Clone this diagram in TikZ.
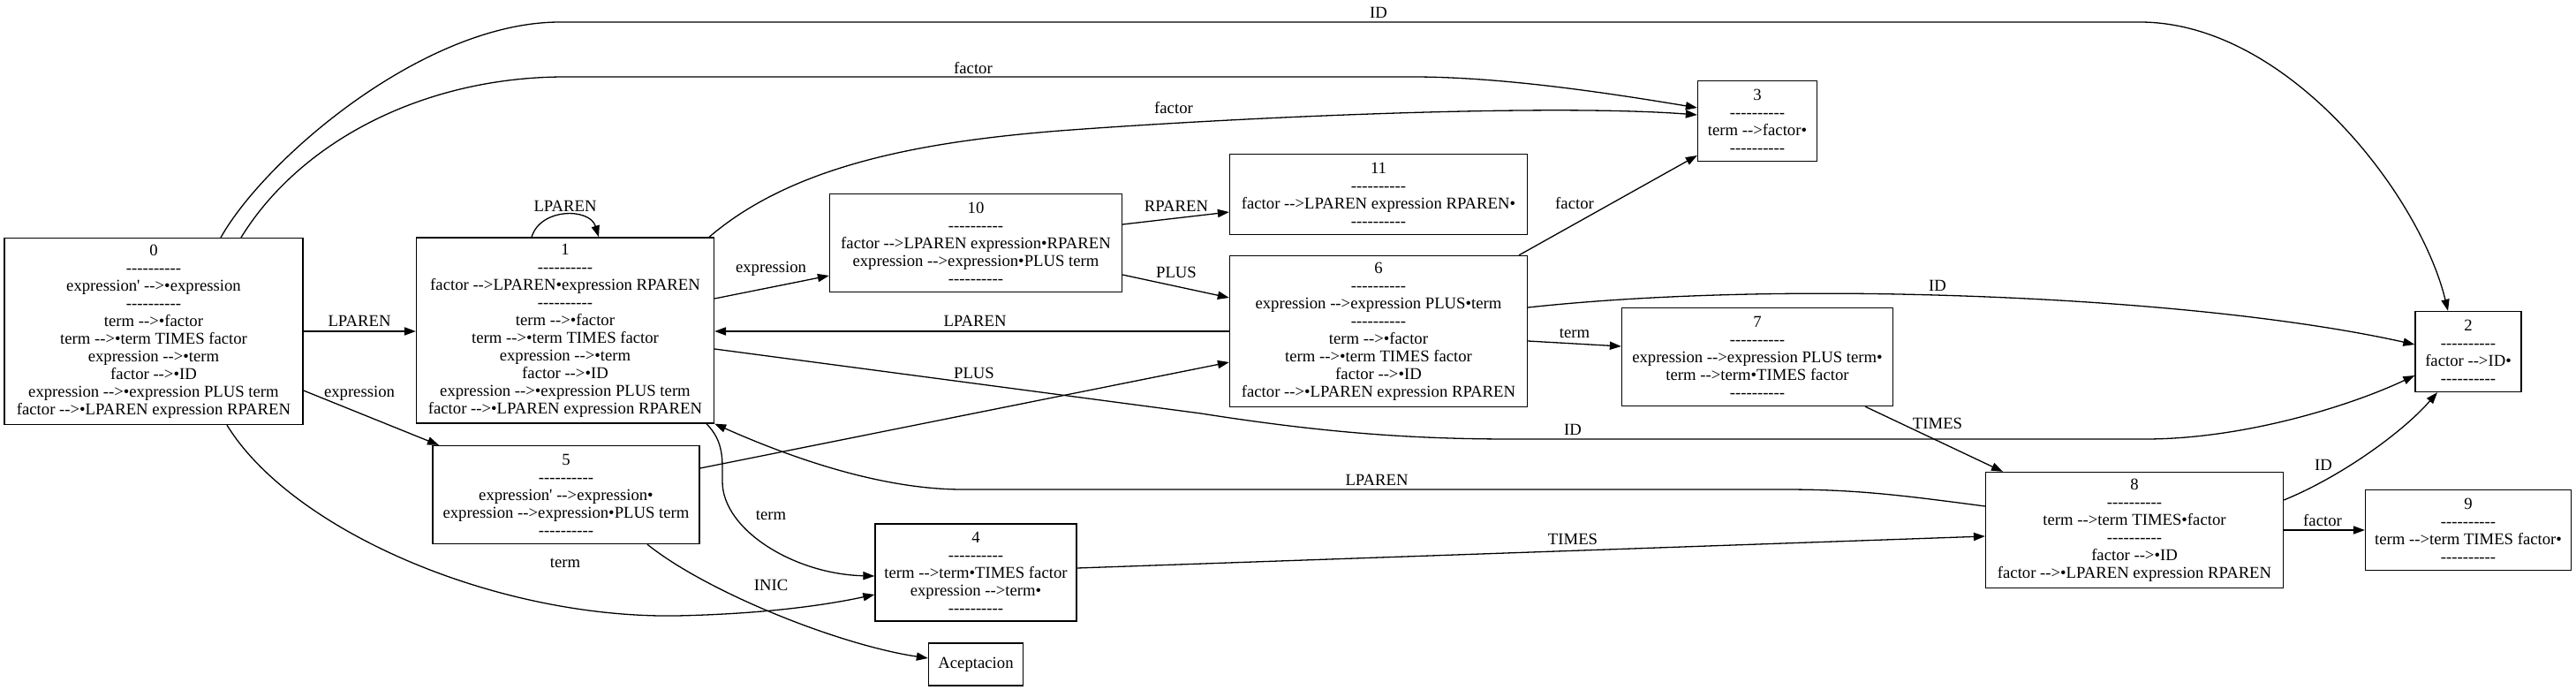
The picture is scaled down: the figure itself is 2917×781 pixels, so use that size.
\documentclass[tikz,border=0pt]{standalone}
\usepackage{fontspec}
\newfontfamily\gv{Liberation Serif}
\usetikzlibrary{arrows.meta,calc}
\newcommand\gvf{\gv\fontsize{9.35}{10}\selectfont}
\newcommand\gvsep{----------}
\tikzset{
 st/.style={draw, line width=0.65pt, align=center, inner sep=0pt, font=\gvf},
 lbl/.style={inner sep=0pt, font=\gvf},
 conn/.style={line width=0.65pt, -{Triangle[length=6.5pt,width=4.6pt]}},
}
\begin{document}
\begin{tikzpicture}[x=0.5pt,y=-0.5pt]
\useasboundingbox (0,0) rectangle (2917,781);
\fill[white] (0,0) rectangle (2917,781);
% states
\node[st, minimum width=169pt, minimum height=105.5pt] (n0) at (174,375) {0\\\gvsep\\expression' -->•expression\\\gvsep\\term -->•factor\\term -->•term TIMES factor\\expression -->•term\\factor -->•ID\\expression -->•expression PLUS term\\factor -->•LPAREN expression RPAREN};
\node[st, minimum width=168.5pt, minimum height=105pt] (n1) at (640,374) {1\\\gvsep\\factor -->LPAREN•expression RPAREN\\\gvsep\\term -->•factor\\term -->•term TIMES factor\\expression -->•term\\factor -->•ID\\expression -->•expression PLUS term\\factor -->•LPAREN expression RPAREN};
\node[st, minimum width=165.5pt, minimum height=55.5pt] (n10) at (1105,275) {10\\\gvsep\\factor -->LPAREN expression•RPAREN\\expression -->expression•PLUS term\\\gvsep};
\node[st, minimum width=168.5pt, minimum height=45.5pt] (n11) at (1561,220) {11\\\gvsep\\factor -->LPAREN expression RPAREN•\\\gvsep};
\node[st, minimum width=168.5pt, minimum height=85.5pt] (n6) at (1561,375) {6\\\gvsep\\expression -->expression PLUS•term\\\gvsep\\term -->•factor\\term -->•term TIMES factor\\factor -->•ID\\factor -->•LPAREN expression RPAREN};
\node[st, minimum width=67.5pt, minimum height=45.5pt] (n3) at (1990,137) {3\\\gvsep\\term -->factor•\\\gvsep};
\node[st, minimum width=153.5pt, minimum height=55.5pt] (n7) at (1990,404) {7\\\gvsep\\expression -->expression PLUS term•\\term -->term•TIMES factor\\\gvsep};
\node[st, minimum width=60pt, minimum height=45.5pt] (n2) at (2795,398) {2\\\gvsep\\factor -->ID•\\\gvsep};
\node[st, minimum width=168.5pt, minimum height=65.5pt] (n8) at (2417,600) {8\\\gvsep\\term -->term TIMES•factor\\\gvsep\\factor -->•ID\\factor -->•LPAREN expression RPAREN};
\node[st, minimum width=116.5pt, minimum height=45.5pt] (n9) at (2795,600) {9\\\gvsep\\term -->term TIMES factor•\\\gvsep};
\node[st, minimum width=151pt, minimum height=55.5pt] (n5) at (641,560) {5\\\gvsep\\expression' -->expression•\\expression -->expression•PLUS term\\\gvsep};
\node[st, minimum width=114pt, minimum height=55pt] (n4) at (1105,648) {4\\\gvsep\\term -->term•TIMES factor\\expression -->term•\\\gvsep};
\node[st, minimum width=53.5pt, minimum height=24pt] (nacc) at (1105,752) {Aceptacion};
% connectors
\draw[conn] (n0.east |- 0,375) -- (n1.west |- 0,375);
\draw[conn] (n0.east |- 0,442) -- (497,0 |- n5.north);
\draw[conn] (257,0 |- n0.south) .. controls (330,600) and (560,700) .. (766,697) .. controls (860,695) and (930,686) .. (n4.west |- 0,673);
\draw[conn] (273,0 |- n0.north) .. controls (340,160) and (480,87) .. (640,87) -- (1600,87) .. controls (1700,87) and (1820,105) .. (n3.west |- 0,122);
\draw[conn] (250,0 |- n0.north) .. controls (300,180) and (480,25) .. (634,25) -- (2423,25) .. controls (2590,25) and (2740,220) .. (2772,0 |- n2.north);
\draw[conn] (602,0 |- n1.north) .. controls (612,235) and (668,235) .. (678,0 |- n1.north);
\draw[conn] (803,0 |- n1.north) .. controls (900,185) and (1050,160) .. (1200,148) .. controls (1400,133) and (1750,117) .. (n3.west |- 0,130);
\draw[conn] (n1.east |- 0,338) -- (n10.west |- 0,312);
\draw[conn] (n1.east |- 0,395) -- (1360,468) .. controls (1500,490) and (1600,497) .. (1712,497) -- (2429,497) .. controls (2540,497) and (2660,460) .. (n2.west |- 0,425);
\draw[conn] (800,0 |- n1.south) .. controls (820,500) and (818,520) .. (818,545) .. controls (818,600) and (900,650) .. (n4.west |- 0,652);
\draw[conn] (n10.east |- 0,254) -- (n11.west |- 0,240);
\draw[conn] (n10.east |- 0,311) -- (n6.west |- 0,337);
\draw[conn] (n6.west |- 0,375) -- (n1.east |- 0,375);
\draw[conn] (n5.east |- 0,530) -- (n6.west |- 0,410);
\draw[conn] (733,0 |- n5.south) .. controls (800,670) and (950,730) .. (nacc.west |- 0,745);
\draw[conn] (1720,0 |- n6.north) -- (n3.west |- 0,176);
\draw[conn] (n6.east |- 0,348) .. controls (1850,335) and (2000,330) .. (2150,333) .. controls (2400,338) and (2600,360) .. (n2.west |- 0,390);
\draw[conn] (n6.east |- 0,386) -- (n7.west |- 0,392);
\draw[conn] (2112,0 |- n7.south) -- (2268,0 |- n8.north);
\draw[conn] (n8.west |- 0,573) .. controls (2150,560) and (2100,554) .. (2020,554) -- (1090,554) .. controls (1000,554) and (900,520) .. (n1.south east);
\draw[conn] (n4.east |- 0,643) -- (n8.west |- 0,607);
\draw[conn] (n8.east |- 0,566) .. controls (2650,540) and (2720,490) .. (2760,0 |- n2.south);
\draw[conn] (n8.east |- 0,600) -- (n9.west |- 0,600);
% labels
\node[lbl] (l01) at (407,363) {LPAREN};
\node[lbl] (l05) at (407,445) {expression};
\node[lbl] (l04) at (640,637) {term};
\node[lbl] (l03) at (1102,77) {factor};
\node[lbl] (l02) at (1561,14) {ID};
\node[lbl] (l11) at (640,233) {LPAREN};
\node[lbl] (l13) at (1329,122) {factor};
\node[lbl] (l110) at (873,304) {expression};
\node[lbl] (l12) at (1781,486) {ID};
\node[lbl] (l14) at (873,583) {term};
\node[lbl] (l1011) at (1332,233) {RPAREN};
\node[lbl] (l106) at (1332,308) {PLUS};
\node[lbl] (l61) at (1104,363) {LPAREN};
\node[lbl] (l56) at (1103,422) {PLUS};
\node[lbl] (l5a) at (873,662) {INIC};
\node[lbl] (l63) at (1783,230) {factor};
\node[lbl] (l62) at (2194,323) {ID};
\node[lbl] (l67) at (1783,377) {term};
\node[lbl] (l78) at (2194,479) {TIMES};
\node[lbl] (l81) at (1559,543) {LPAREN};
\node[lbl] (l48) at (1781,610) {TIMES};
\node[lbl] (l82) at (2631,526) {ID};
\node[lbl] (l89) at (2630,589) {factor};
\end{tikzpicture}
\end{document}
